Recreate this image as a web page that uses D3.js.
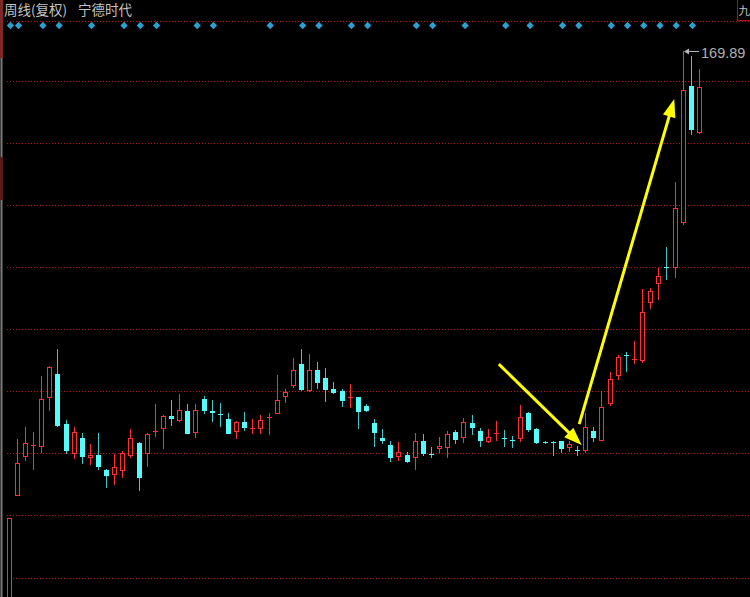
<!DOCTYPE html>
<html><head><meta charset="utf-8">
<script src="https://cdn.jsdelivr.net/npm/d3@7"></script>
<style>html,body{margin:0;padding:0;background:#000;overflow:hidden}</style>
</head><body>
<svg id="c" width="750" height="597"></svg>
<script>
// ---- data (weekly candles) ----
const weeks = d3.range(86);
const opens  = [20,55.2,65.3,68.0,67.9,80.4,86.7,73.7,66.1,70.2,65.0,65.7,61.8,60.5,61.7,65.5,68.9,65.9,71.6,72.5,75.9,74.5,77.1,71.3,80.1,77.0,76.3,75.0,71.6,74.2,72.4,72.4,75.4,76.3,80.8,83.6,89.1,82.3,87.6,85.5,82.8,82.2,80.5,80.7,78.4,74.1,70.2,68.3,65.1,65.7,65.0,69.3,66.1,67.3,67.6,71.8,70.1,73.9,72.0,69.0,71.1,70.2,69.5,69.8,76.7,72.4,69.2,69.2,69.4,67.6,67.1,66.8,72.0,69.4,78.9,86.2,91.5,90.4,90.1,105.0,109.9,114.3,113.9,125.5,161.0,148.8];
const highs  = [49.6,69.9,72.9,71.7,86.1,88.8,93.1,74.8,72.9,71.5,68.5,71.4,62.1,66.0,66.9,72.4,69.1,71.5,78.9,76.1,79.9,81.4,78.9,78.9,81.0,79.9,79.2,76.5,74.4,76.8,75.0,76.1,76.6,86.4,82.9,90.7,93.0,91.8,89.7,88.2,84.7,82.9,84.1,80.8,78.9,75.0,72.4,69.3,69.0,66.5,71.3,71.1,67.7,70.3,72.0,72.2,75.4,76.1,72.6,72.5,74.5,72.2,70.6,78.6,76.9,72.6,69.4,69.3,69.4,69.4,68.1,76.5,73.0,82.3,87.2,91.5,92.4,95.2,108.6,108.8,113.9,119.3,136.1,169.89,168.8,165.3];
const lows   = [18,55.2,64.3,61.9,66.3,77.2,73.0,65.9,64.7,63.4,63.2,61.9,57.1,58.1,59.9,64.9,56.5,62.7,70.3,67.2,73.3,74.3,71.1,70.0,76.3,74.2,73.0,71.1,69.8,72.0,71.2,71.2,70.9,76.3,79.2,83.0,82.3,82.1,82.8,79.5,81.4,78.1,77.8,72.4,76.9,67.9,68.5,63.9,64.3,63.8,61.9,65.5,64.9,66.3,64.9,68.5,68.8,70.9,67.9,68.8,69.4,67.9,67.5,69.2,71.8,68.6,68.6,65.5,66.2,66.4,65.5,66.3,69.2,69.4,78.4,85.1,87.1,89.2,89.4,103.3,105.7,110.9,111.3,125.1,148.3,148.6];
const closes = [49.6,63.6,68.9,68.2,80.1,88.5,73.3,66.8,71.7,65.3,65.7,62.6,60.4,62.7,66.3,70.2,59.9,71.2,71.9,75.9,75.1,77.4,71.2,77.4,77.2,76.7,76.0,71.2,74.2,72.8,72.6,74.7,75.6,79.9,81.9,87.7,82.5,87.6,84.4,82.6,81.7,79.6,80.7,76.9,77.2,71.5,69.4,64.9,66.5,64.0,69.3,66.0,65.9,68.1,71.2,69.6,74.2,72.6,69.4,70.5,71.3,70.0,69.3,75.5,72.2,68.8,69.0,69.0,67.2,68.5,66.9,73.0,70.1,78.1,85.3,91.0,91.3,90.6,102.6,108.1,111.9,114.1,129.4,159.9,149.6,160.6];
const gridPrices = [34,50,66,82,98,114,130,146,162];
const signalWeeks = [0,1,4,6,10,14,16,18,23,25,32,36,38,42,44,50,52,56,61,64,68,70,74,76,78,80,82,84];
const titleParts = ["周线(复权)", "宁德时代"];
const cornerText = "九";
// annotation arrows: [week, price] -> [week, price]
const arrowFrom = [[60.3,89.2],[70.2,73.7]];
const arrowTo   = [[70.5,68.3],[81.9,157.6]];

// ---- drawing ----
const W = 750, H = 597;
const RED = "#ff3030", CYAN = "#54fcfc", CYAN_W = "#3cc8c8", GRID = "#c01010";
const svg = d3.select("#c");
svg.append("rect").attr("width", W).attr("height", H).attr("fill", "#000");

const x = d3.scaleBand().domain(weeks).range([5.14, 5.14 + 8.12 * weeks.length]).padding(0);
const cx = i => x(i) + x.bandwidth() / 2;
const xc = v => x(0) + x.bandwidth() / 2 + v * x.step(); // continuous week position
const y = d3.scaleLinear().domain([34, 169.89]).range([578, 51.42]);
const px = v => Math.floor(v) + 0.5;

// grid
svg.append("g").selectAll("line").data(gridPrices).join("line")
  .attr("x1", 7).attr("x2", W)
  .attr("y1", d => px(y(d))).attr("y2", d => px(y(d)))
  .attr("stroke", GRID).attr("stroke-width", 1).attr("stroke-dasharray", "1,2");
// frame top line
svg.append("line").attr("x1", 7).attr("x2", W).attr("y1", 21.5).attr("y2", 21.5)
  .attr("stroke", GRID).attr("stroke-dasharray", "1,2");

// left border
svg.append("line").attr("x1", 1.5).attr("x2", 1.5).attr("y1", 0).attr("y2", H)
  .attr("stroke", "#7a7a7a").attr("stroke-width", 2);
svg.append("line").attr("x1", 1.5).attr("x2", 1.5).attr("y1", 0).attr("y2", 58)
  .attr("stroke", "#c01010").attr("stroke-width", 2);
svg.append("line").attr("x1", 1.5).attr("x2", 1.5).attr("y1", 157).attr("y2", 200)
  .attr("stroke", "#800000").attr("stroke-width", 2);

// candles
const g = svg.append("g");
weeks.forEach(i => {
  const o = opens[i], c = closes[i], h = highs[i], l = lows[i];
  const up = c >= o;
  const xm = Math.floor(cx(i));
  const yTop = Math.round(y(Math.max(o, c))), yBot = Math.round(y(Math.min(o, c)));
  const yH = Math.round(y(h)), yL = Math.round(y(l));
  if (up) {
    if (yTop > yH) g.append("line").attr("x1", xm + 0.5).attr("x2", xm + 0.5).attr("y1", yH).attr("y2", yTop).attr("stroke", RED);
    if (yL > yBot) g.append("line").attr("x1", xm + 0.5).attr("x2", xm + 0.5).attr("y1", yBot).attr("y2", yL).attr("stroke", RED);
    if (yBot - yTop >= 2) {
      g.append("rect").attr("x", xm - 1.5).attr("y", yTop + 0.5).attr("width", 4).attr("height", yBot - yTop - 1)
        .attr("fill", "#000").attr("stroke", RED).attr("stroke-width", 1);
    } else {
      g.append("line").attr("x1", xm - 2).attr("x2", xm + 3).attr("y1", yTop + 0.5).attr("y2", yTop + 0.5).attr("stroke", RED);
    }
  } else {
    g.append("line").attr("x1", xm + 0.5).attr("x2", xm + 0.5).attr("y1", yH).attr("y2", Math.max(yL, yH + 1)).attr("stroke", CYAN_W);
    g.append("rect").attr("x", xm - 2).attr("y", yTop).attr("width", 5).attr("height", Math.max(1, yBot - yTop))
      .attr("fill", CYAN);
  }
});

// signal diamonds
svg.append("g").selectAll("path").data(signalWeeks).join("path")
  .attr("d", d3.symbol(d3.symbolDiamond2, 34)())
  .attr("transform", d => `translate(${cx(d) + 1.2},25.5)`)
  .attr("fill", "#2a9fd0");

// title
const tfont = "'Noto Sans CJK SC', sans-serif";
svg.append("text").attr("x", 4).attr("y", 15).text(titleParts[0])
  .attr("fill", "#c4c4c4").attr("font-size", 13.5).attr("font-family", tfont);
svg.append("text").attr("x", 78).attr("y", 15).text(titleParts[1])
  .attr("fill", "#c4c4c4").attr("font-size", 13.5).attr("font-family", tfont);

// corner box
svg.append("rect").attr("x", 737.5).attr("y", -1).attr("width", 30).attr("height", 21.5)
  .attr("fill", "none").attr("stroke", "#b01010");
svg.append("text").attr("x", 738.5).attr("y", 15).text(cornerText)
  .attr("fill", "#c4c4c4").attr("font-size", 11.5).attr("font-family", tfont);

// max label
const iMax = d3.maxIndex(highs);
const mx = Math.floor(cx(iMax)) + 1, my = Math.round(y(highs[iMax])) + 0.5;
svg.append("line").attr("x1", mx + 1).attr("x2", mx + 15).attr("y1", my).attr("y2", my)
  .attr("stroke", "#b4b4b4");
svg.append("path").attr("d", `M${mx},${my}L${mx + 5},${my - 3}L${mx + 5},${my + 3}Z`).attr("fill", "#b4b4b4");
svg.append("text").attr("x", mx + 17).attr("y", my + 6).text(highs[iMax].toFixed(2))
  .attr("fill", "#b0b0b0").attr("font-size", 14.5).attr("font-family", "Arial, 'Liberation Sans', sans-serif");

// arrows
arrowFrom.forEach((f, k) => {
  const t = arrowTo[k];
  const x1 = xc(f[0]), y1 = y(f[1]), x2 = xc(t[0]), y2 = y(t[1]);
  const dx = x2 - x1, dy = y2 - y1, len = Math.hypot(dx, dy);
  const ux = dx / len, uy = dy / len, hl = 18, hw = 6.5;
  const bx = x2 - ux * hl, by = y2 - uy * hl;
  svg.append("line").attr("x1", x1).attr("y1", y1).attr("x2", bx + ux * 2).attr("y2", by + uy * 2)
    .attr("stroke", "#ffff00").attr("stroke-width", 3);
  svg.append("path").attr("d", `M${x2},${y2}L${bx - uy * hw},${by + ux * hw}L${bx + uy * hw},${by - ux * hw}Z`)
    .attr("fill", "#ffff00");
});
</script>
</body></html>
